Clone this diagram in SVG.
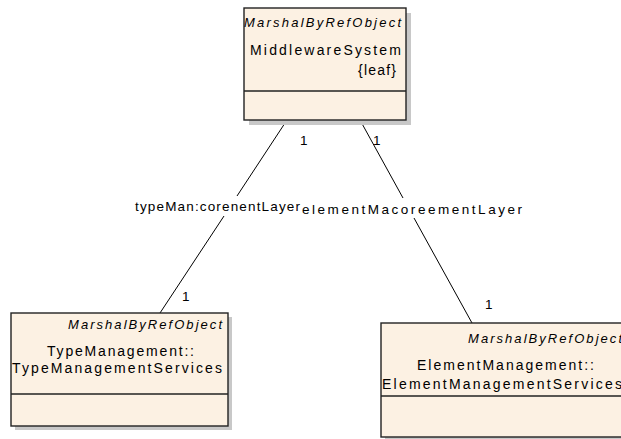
<svg xmlns="http://www.w3.org/2000/svg" width="621" height="439" viewBox="0 0 621 439">
<style>
.shadow{fill:#c8c8c8;stroke:none}
.box{fill:#fcf1e3;stroke:#222;stroke-width:1.4}
.div{stroke:#222;stroke-width:1.4}
.st{font-family:"Liberation Sans",Arial,sans-serif;font-size:13px;font-style:italic;fill:#000}
.nm{font-family:"Liberation Sans",Arial,sans-serif;font-size:14px;fill:#000}
.lbl{font-family:"Liberation Sans",Arial,sans-serif;font-size:13.5px;fill:#000}
.conn{stroke:#000;stroke-width:1;fill:none}
</style>
<rect width="621" height="439" fill="#fff"/>
<g id="connectors">
<line class="conn" x1="287" y1="120" x2="237" y2="196"/>
<line class="conn" x1="224" y1="216" x2="160" y2="313"/>
<line class="conn" x1="360" y1="120" x2="403" y2="198"/>
<line class="conn" x1="414" y1="218" x2="472" y2="323"/>
<text class="lbl" x="135" y="211" textLength="165" lengthAdjust="spacing">typeMan:corenentLayer</text>
<text class="lbl" x="302" y="214" textLength="220" lengthAdjust="spacing">elementMacoreementLayer</text>
<text class="lbl" x="300" y="145">1</text>
<text class="lbl" x="373" y="145">1</text>
<text class="lbl" x="182" y="301">1</text>
<text class="lbl" x="485" y="309">1</text>
</g>
<g id="MiddlewareSystem">
<rect class="shadow" x="249" y="13" width="162" height="112"/>
<rect class="box" x="244" y="8" width="162" height="112"/>
<line class="div" x1="244" y1="91" x2="406" y2="91"/>
<text class="st" x="244" y="27" textLength="157" lengthAdjust="spacing">MarshalByRefObject</text>
<text class="nm" x="250" y="55" textLength="151" lengthAdjust="spacing">MiddlewareSystem</text>
<text class="nm" x="358" y="75" textLength="38" lengthAdjust="spacing">{leaf}</text>
</g>
<g id="TypeManagementServices">
<rect class="shadow" x="15" y="317" width="217" height="113"/>
<rect class="box" x="11" y="313" width="217" height="113"/>
<line class="div" x1="11" y1="394" x2="228" y2="394"/>
<text class="st" x="68" y="329" textLength="154" lengthAdjust="spacing">MarshalByRefObject</text>
<text class="nm" x="47" y="356" textLength="147" lengthAdjust="spacing">TypeManagement::</text>
<text class="nm" x="12" y="373" textLength="210" lengthAdjust="spacing">TypeManagementServices</text>
</g>
<g id="ElementManagementServices">
<rect class="shadow" x="385" y="327" width="250" height="114"/>
<rect class="box" x="381" y="323" width="250" height="114"/>
<line class="div" x1="381" y1="396" x2="631" y2="396"/>
<text class="st" x="468" y="343" textLength="154" lengthAdjust="spacing">MarshalByRefObject</text>
<text class="nm" x="417" y="370" textLength="177" lengthAdjust="spacing">ElementManagement::</text>
<text class="nm" x="382" y="389" textLength="240" lengthAdjust="spacing">ElementManagementServices</text>
</g>
</svg>
